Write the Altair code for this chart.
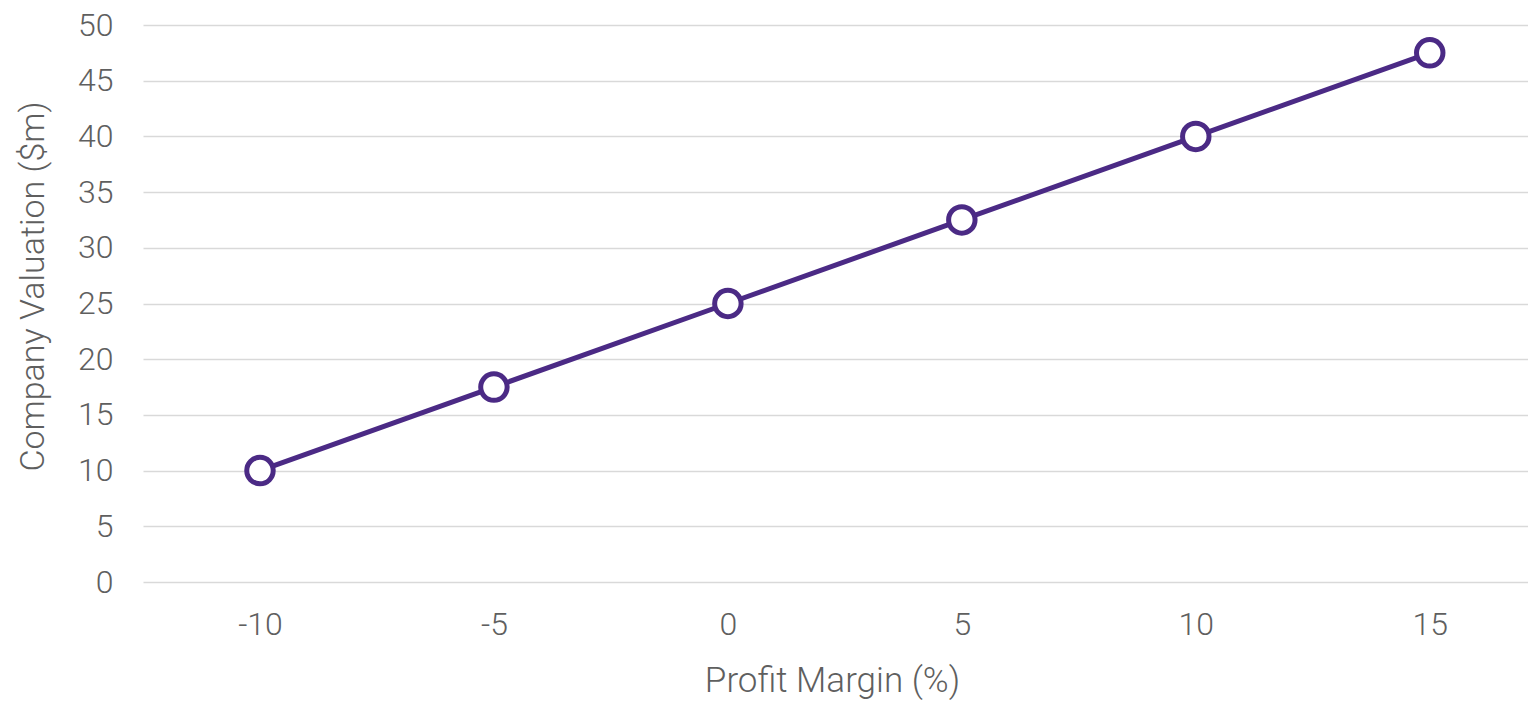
import altair as alt
import pandas as pd

margin = [-10, -5, 0, 5, 10, 15]
valuation = [10, 17.5, 25, 32.5, 40, 47.5]

df = pd.DataFrame({"margin": margin, "valuation": valuation})

purple = "#4B2A85"
txt = "#5f5f5f"
font = "Roboto"

x = alt.X("margin:Q", title="Profit Margin (%)",
          scale=alt.Scale(domain=[-12.5, 17.1], nice=False, zero=False),
          axis=alt.Axis(values=margin, grid=False, domain=False, ticks=False,
                        labelExpr="datum.value + ''",
                        labelFontSize=32, labelColor=txt, labelFont=font, labelFontWeight=300,
                        labelPadding=27, titleFontSize=35, titleColor=txt, titleFont=font,
                        titleFontWeight=300, titlePadding=23, titleX=689))
y = alt.Y("valuation:Q", title="Company Valuation ($m)",
          scale=alt.Scale(domain=[0, 50], nice=False),
          axis=alt.Axis(values=list(range(0, 51, 5)), grid=True, gridColor="#d9d9d9",
                        gridWidth=1.5, domain=False, ticks=False,
                        labelFontSize=32, labelColor=txt, labelFont=font, labelFontWeight=300,
                        labelPadding=30, titleFontSize=34, titleColor=txt, titleFont=font,
                        titleFontWeight=300, titlePadding=27, titleY=261))

base = alt.Chart(df).encode(x=x, y=y)
line = base.mark_line(color=purple, strokeWidth=5)
pts = base.mark_point(shape="circle", filled=True, fill="white", stroke=purple,
                      strokeWidth=5, size=700, opacity=1)

chart = (line + pts).properties(
    width=1385, height=557,
    autosize=alt.AutoSizeParams(type="none"),
    padding={"left": 135, "top": 17, "right": 0, "bottom": 122},
).configure_view(stroke=None)

chart.save("out.html", embed_options={"renderer": "svg", "actions": False})
